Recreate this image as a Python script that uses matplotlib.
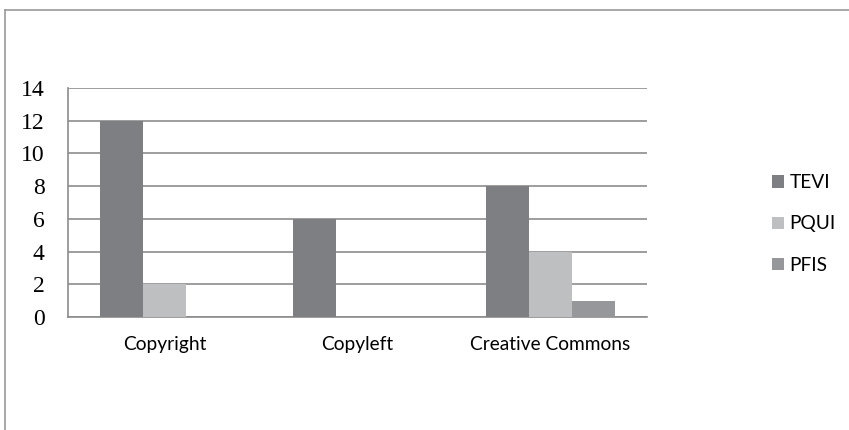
import numpy as np
import matplotlib
matplotlib.use("Agg")
import matplotlib.pyplot as plt
from matplotlib.lines import Line2D

# data
categories = ["Copyright", "Copyleft", "Creative Commons"]
series_names = ["TEVI", "PQUI", "PFIS"]
tevi = [12, 6, 8]
pqui = [2, 0, 4]
pfis = [0, 0, 1]
yticks = [0, 2, 4, 6, 8, 10, 12, 14]

colors = ["#7e7f83", "#bebfc1", "#96979a"]
grid_col = "#8c8c8c"

fig = plt.figure(figsize=(8.49, 4.30), dpi=100)
ax = fig.add_axes([68 / 849, 1 - 317 / 430, (647 - 68) / 849, (317 - 88) / 430])

x = np.arange(len(categories))
w = 0.222
for i, (vals, name) in enumerate(zip([tevi, pqui, pfis], series_names)):
    ax.bar(x + (i - 1) * w, vals, width=w, color=colors[i], label=name, zorder=3)

ax.set_xlim(-0.5, len(categories) - 0.5)
ax.set_ylim(0, 14)
ax.set_yticks(yticks)
ax.set_yticklabels([str(t) for t in yticks], family="Liberation Serif", fontsize=17)
ax.set_xticks(x)
ax.set_xticklabels(categories, family="Lato", fontsize=13.8)
ax.tick_params(axis="y", length=0, pad=17)
ax.tick_params(axis="x", length=0, pad=14)
ax.yaxis.grid(True, color=grid_col, linewidth=1.2, zorder=0)

for s in ["top", "right"]:
    ax.spines[s].set_visible(False)
for s in ["left", "bottom"]:
    ax.spines[s].set_color(grid_col)
    ax.spines[s].set_linewidth(1.2)

leg = fig.legend(*ax.get_legend_handles_labels(), loc="center left",
                 bbox_to_anchor=(772 / 849, 1 - 224 / 430), frameon=False,
                 prop={"family": "Lato", "size": 13.8}, handlelength=0.62,
                 handleheight=0.62, handletextpad=0.3, labelspacing=1.26,
                 borderpad=0, borderaxespad=0)

# outer frame of the chart box
fig.add_artist(Line2D([5 / 849, 5 / 849], [0, 1 - 10 / 430], color="#9a9a9a", linewidth=1.2))
fig.add_artist(Line2D([5 / 849, 1], [1 - 10 / 430, 1 - 10 / 430], color="#9a9a9a", linewidth=1.2))

fig.savefig("out.png", dpi=100)
